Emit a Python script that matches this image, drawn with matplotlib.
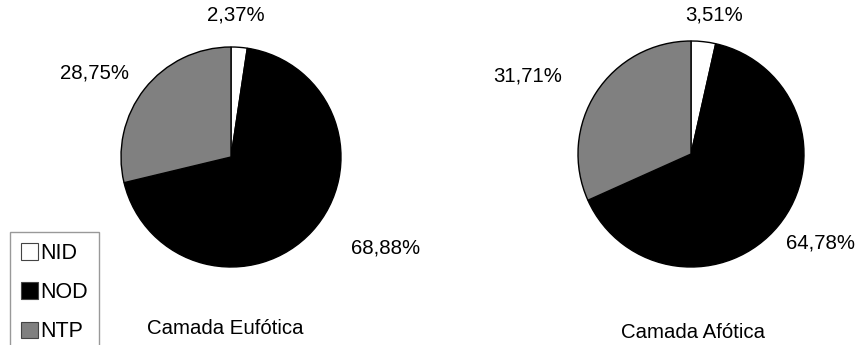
"""
nitrogen fractions pie charts
"""

import matplotlib.pyplot as plt
from matplotlib.patches import Patch

plt.rcParams['font.family'] = ['Liberation Sans', 'DejaVu Sans']

categories = ['NID', 'NOD', 'NTP']
colors = ['white', 'black', '#808080']
eufotica = [2.37, 68.88, 28.75]
afotica = [3.51, 64.78, 31.71]
titles = ['Camada Eufótica', 'Camada Afótica']


def fmt(value):
    return f'{value:.2f}%'.replace('.', ',')


fig = plt.figure(figsize=(8.62, 3.45), dpi=100)
ax = fig.add_axes([0, 0, 1, 1])

# (center, radius, label positions, title position) in pixel units
layouts = [
    ((231, 188), 110, [(236, 330), (386, 97), (95, 272)], (225, 16)),
    ((691, 191), 113, [(714, 330), (821, 102), (528, 269)], (693, 13)),
]

for values, title, (center, radius, label_pos, title_pos) in zip(
        [eufotica, afotica], titles, layouts):
    ax.pie(values, colors=colors, startangle=90, counterclock=False,
           center=center, radius=radius, frame=True,
           wedgeprops=dict(edgecolor='black', linewidth=1))
    for value, (x, y) in zip(values, label_pos):
        ax.text(x, y, fmt(value), ha='center', va='center', fontsize=14.7)
    ax.text(title_pos[0], title_pos[1], title, ha='center', va='center',
            fontsize=14.7)

ax.set_xlim(0, 862)
ax.set_ylim(0, 345)
ax.axis('off')

handles = [Patch(facecolor=c, edgecolor='#444444', linewidth=0.8)
           for c in colors]
leg = ax.legend(handles, categories, loc='upper left',
                bbox_to_anchor=(10 / 862, 1 - 232 / 345),
                fontsize=15.5, frameon=True, fancybox=False,
                handlelength=0.8, handleheight=0.8, handletextpad=0.1,
                labelspacing=0.85, borderpad=0.5, borderaxespad=0)
leg.get_frame().set_edgecolor('#808080')
leg.get_frame().set_linewidth(1)

fig.savefig('out.png', dpi=100)
